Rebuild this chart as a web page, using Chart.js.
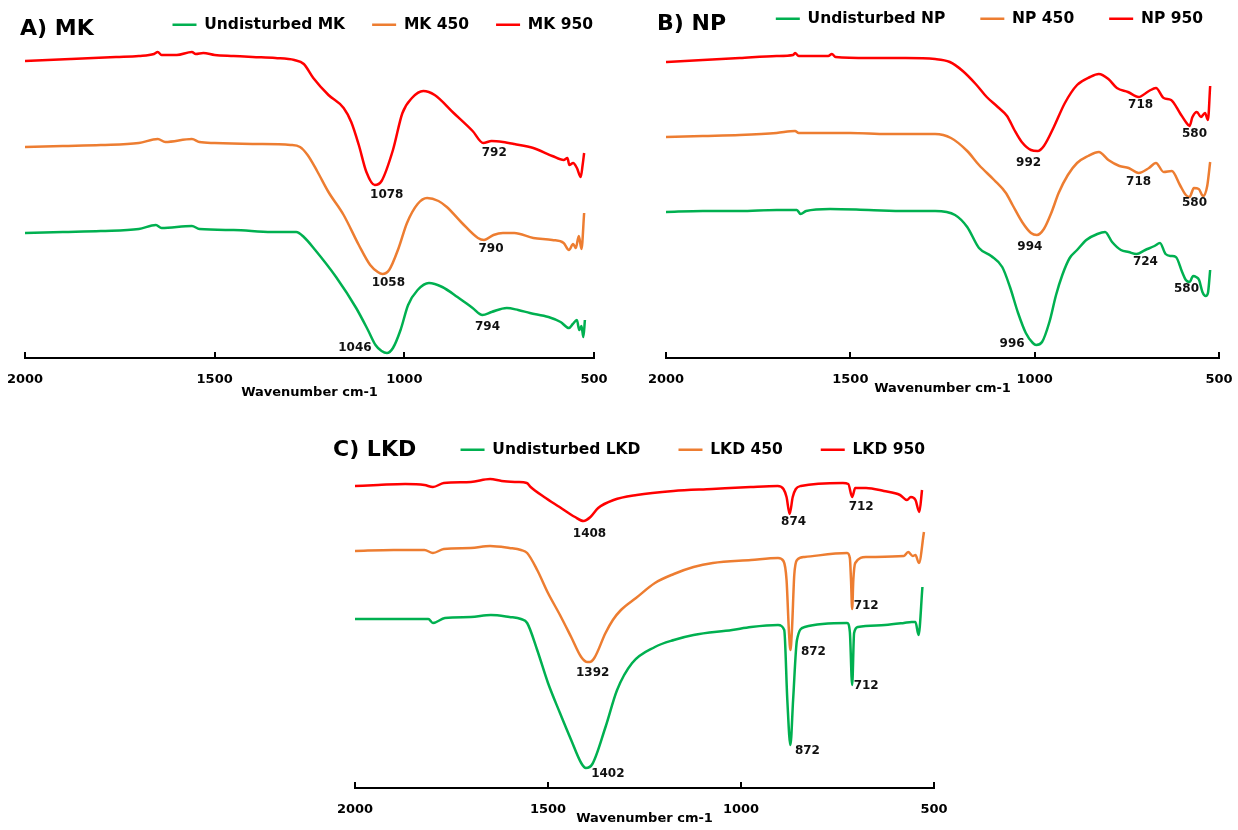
<!DOCTYPE html>
<html>
<head>
<meta charset="utf-8">
<title>FTIR spectra - MK, NP, LKD</title>
<script src="https://cdn.jsdelivr.net/npm/chart.js@4.4.1/dist/chart.umd.min.js"></script>
<style>
  body { margin: 0; background: #fff; }
  #wrap { position: relative; width: 1238px; height: 830px; }
  #wrap canvas { position: absolute; }
  #chartMK { left: 0; top: 0; }
  #chartNP { left: 620px; top: 0; }
  #chartLKD { left: 330px; top: 410px; }
</style>
</head>
<body>
<div id="wrap">
  <canvas id="chartMK" width="620" height="410"></canvas>
  <canvas id="chartNP" width="618" height="410"></canvas>
  <canvas id="chartLKD" width="633" height="420"></canvas>
</div>
<script>
// --- Wavenumber axis ticks (cm-1) ---
const tickValues = [2000, 1500, 1000, 500];

// --- Series colours: undisturbed, 450, 950 ---
const seriesColors = ['#00B050', '#ED7D31', '#FF0000'];

// --- MK spectra (transmittance, arbitrary units, offset per sample) ---
const mkUndWn = [2000, 1900, 1800, 1700, 1655, 1640, 1560, 1540, 1450, 1350, 1285, 1265, 1235, 1180, 1127, 1096, 1076, 1060, 1046, 1030, 1010, 990, 965, 935, 900, 860, 820, 794, 770, 730, 700, 669, 620, 588, 566, 556, 545, 539, 533, 528, 524];
const mkUndT  = [125, 126, 127, 129, 133, 130, 132, 129, 128, 126, 126, 121, 108, 81, 50, 28, 13, 7, 5, 10, 28, 53, 68, 75, 71, 61, 50, 43, 46, 50, 48, 45, 41, 36, 30, 34, 38, 28, 32, 21, 38];
const mk450Wn = [2000, 1900, 1800, 1700, 1650, 1630, 1560, 1540, 1500, 1400, 1300, 1275, 1255, 1230, 1200, 1160, 1120, 1090, 1070, 1058, 1040, 1015, 993, 965, 940, 910, 888, 848, 806, 790, 765, 740, 710, 660, 610, 580, 566, 555, 548, 540, 533, 526];
const mk450T  = [211, 212, 213, 215, 219, 216, 219, 216, 215, 214, 213, 211, 203, 187, 166, 143, 113, 93, 86, 84, 88, 110, 135, 154, 160, 157, 151, 135, 120, 118, 123, 125, 125, 120, 118, 115, 108, 114, 110, 122, 109, 145];
const mk950Wn = [2000, 1940, 1880, 1820, 1760, 1700, 1660, 1650, 1640, 1600, 1560, 1550, 1530, 1500, 1450, 1400, 1340, 1290, 1265, 1240, 1200, 1160, 1140, 1120, 1100, 1078, 1060, 1030, 1005, 980, 950, 920, 870, 820, 792, 770, 740, 710, 660, 610, 580, 570, 565, 555, 545, 535, 530, 526];
const mk950T  = [297, 298, 299, 300, 301, 302, 304, 306, 303, 303, 306, 304, 305, 303, 302, 301, 300, 298, 294, 280, 263, 250, 236, 213, 186, 173, 177, 208, 245, 260, 267, 263, 245, 227, 215, 217, 216, 214, 210, 202, 198, 200, 193, 195, 190, 181, 193, 205];

// --- NP spectra ---
const npUndWn = [2000, 1900, 1800, 1700, 1645, 1635, 1620, 1555, 1450, 1350, 1270, 1216, 1183, 1151, 1118, 1088, 1067, 1045, 1024, 1005, 996, 980, 960, 942, 925, 905, 885, 860, 830, 809, 790, 766, 745, 724, 700, 675, 660, 645, 630, 617, 600, 590, 580, 570, 562, 554, 545, 536, 530, 524];
const npUndT  = [146, 147, 147, 148, 148, 144, 147, 149, 148, 147, 147, 143, 131, 110, 102, 91, 71, 45, 25, 15, 13, 16, 36, 63, 83, 100, 108, 118, 124, 126, 116, 108, 106, 104, 108, 112, 115, 104, 102, 101, 86, 78, 76, 82, 81, 78, 66, 62, 65, 88];
const np450Wn = [2000, 1900, 1800, 1700, 1650, 1640, 1500, 1400, 1270, 1227, 1183, 1151, 1110, 1078, 1060, 1034, 1010, 994, 975, 955, 935, 910, 885, 855, 826, 800, 770, 745, 718, 690, 671, 650, 628, 606, 590, 580, 568, 555, 543, 532, 524];
const np450T  = [221, 222, 223, 225, 227, 225, 225, 224, 224, 220, 207, 193, 178, 165, 153, 136, 125, 123, 129, 145, 165, 183, 195, 202, 206, 198, 192, 190, 185, 190, 195, 186, 187, 173, 163, 161, 170, 169, 162, 172, 196];
const np950Wn = [2000, 1900, 1800, 1700, 1655, 1650, 1640, 1560, 1550, 1540, 1450, 1350, 1270, 1230, 1195, 1160, 1130, 1100, 1075, 1055, 1035, 1010, 992, 975, 948, 918, 885, 850, 826, 800, 777, 747, 718, 690, 671, 650, 630, 606, 590, 580, 572, 560, 549, 538, 530, 524];
const np950T  = [296, 298, 300, 302, 303, 305, 302, 302, 304, 301, 300, 300, 299, 296, 287, 274, 261, 251, 242, 228, 216, 208, 207, 212, 231, 255, 273, 281, 284, 279, 270, 266, 261, 267, 270, 260, 258, 245, 236, 232, 241, 246, 241, 245, 238, 272];

// --- LKD spectra ---
const lkdUndWn = [2000, 1867, 1810, 1798, 1767, 1700, 1648, 1600, 1570, 1554, 1528, 1500, 1469, 1440, 1414, 1402, 1385, 1351, 1321, 1282, 1223, 1174, 1123, 1023, 974, 904, 888, 880, 872, 865, 855, 835, 725, 718, 712, 707, 697, 627, 578, 558, 548, 540, 530];
const lkdUndT  = [169, 169, 169, 165, 170, 171, 173, 171, 169, 165, 138, 105, 75, 48, 25, 20, 24, 61, 98, 125, 141, 148, 153, 158, 161, 163, 158, 88, 43, 88, 148, 161, 165, 156, 103, 155, 161, 163, 165, 166, 166, 153, 201];
const lkd450Wn = [2000, 1900, 1820, 1798, 1770, 1700, 1650, 1600, 1570, 1554, 1528, 1500, 1469, 1440, 1414, 1398, 1392, 1380, 1351, 1332, 1311, 1272, 1223, 1174, 1123, 1073, 974, 904, 890, 882, 876, 872, 868, 862, 855, 835, 725, 718, 715, 712, 709, 704, 676, 578, 567, 555, 548, 539, 526];
const lkd450T  = [237, 238, 238, 235, 239, 240, 242, 240, 238, 235, 218, 195, 173, 151, 131, 126, 126, 130, 155, 168, 178, 190, 205, 214, 221, 225, 228, 230, 227, 208, 158, 138, 158, 213, 228, 231, 235, 230, 208, 179, 208, 225, 231, 232, 236, 232, 233, 225, 256];
const lkd950Wn = [2000, 1940, 1870, 1820, 1798, 1770, 1700, 1650, 1620, 1580, 1555, 1545, 1510, 1470, 1430, 1408, 1390, 1370, 1330, 1270, 1175, 1075, 975, 905, 890, 882, 874, 866, 858, 845, 736, 722, 712, 704, 676, 630, 588, 570, 560, 548, 538, 531];
const lkd950T  = [302, 303, 304, 303, 301, 305, 306, 309, 307, 306, 305, 301, 291, 281, 271, 267, 271, 280, 288, 293, 297, 299, 301, 302, 299, 291, 274, 291, 299, 302, 305, 304, 291, 300, 300, 297, 293, 288, 291, 288, 276, 298];

// --- Labelled absorption bands: [dataset index, wavenumber] ---
const mkBands  = [[2, 1078], [2, 792], [1, 1058], [1, 790], [0, 1046], [0, 794]];
const npBands  = [[2, 992], [2, 718], [2, 580], [1, 994], [1, 718], [1, 580], [0, 996], [0, 724], [0, 580]];
const lkdBands = [[2, 1408], [2, 874], [2, 712], [1, 1392], [1, 872], [1, 712], [0, 1402], [0, 872], [0, 712]];

Chart.defaults.font.family = '"DejaVu Sans", Arial, sans-serif';
Chart.defaults.color = '#000';

// panel letter + sample name, top left of each chart
const panelTitle = {
    id: 'panelTitle',
    afterDraw(chart, args, opts) {
        const ctx = chart.ctx;
        ctx.save();
        ctx.font = 'bold 22px "DejaVu Sans", Arial, sans-serif';
        ctx.fillStyle = '#000';
        ctx.textAlign = 'left';
        ctx.textBaseline = 'middle';
        ctx.fillText(opts.text, opts.x, opts.y);
        ctx.restore();
    }
};

// wavenumber printed next to each band minimum
const bandLabels = {
    id: 'bandLabels',
    afterDatasetsDraw(chart, args, opts) {
        const { ctx, scales: { x, y } } = chart;
        ctx.save();
        ctx.font = 'bold 12px "DejaVu Sans", Arial, sans-serif';
        ctx.fillStyle = '#111';
        ctx.textAlign = 'center';
        ctx.textBaseline = 'middle';
        opts.items.forEach(item => {
            const pt = chart.data.datasets[item.ds].data.find(d => d.x === item.wn);
            if (!pt) return;
            ctx.fillText(String(item.wn), x.getPixelForValue(pt.x) + item.dx, y.getPixelForValue(pt.y) + item.dy);
        });
        ctx.restore();
    }
};

// short tick marks pointing up into the plot
const innerTicks = {
    id: 'innerTicks',
    afterDraw(chart) {
        const { ctx, scales: { x } } = chart;
        ctx.save();
        ctx.strokeStyle = '#000';
        ctx.lineWidth = 2;
        x.ticks.forEach(t => {
            const px = Math.round(x.getPixelForValue(t.value));
            ctx.beginPath();
            ctx.moveTo(px, x.top + 1);
            ctx.lineTo(px, x.top - 6);
            ctx.stroke();
        });
        ctx.restore();
    }
};

function toPoints(wn, vals) {
    return wn.map((w, i) => ({ x: w, y: vals[i] }));
}

function buildPanel(canvasId, p) {
    const datasets = p.series.map((s, i) => ({
        label: p.labels[i],
        data: toPoints(s[0], s[1]),
        borderColor: seriesColors[i],
        backgroundColor: seriesColors[i],
        borderWidth: 2.5,
        pointRadius: 0,
        cubicInterpolationMode: 'monotone',
        fill: false
    }));

    const items = p.bands.map((b, i) => ({ ds: b[0], wn: b[1], dx: p.offsets[i][0], dy: p.offsets[i][1] }));

    return new Chart(document.getElementById(canvasId), {
        type: 'line',
        data: { datasets },
        options: {
            responsive: false,
            animation: false,
            events: [],
            layout: { padding: p.padding },
            scales: {
                x: {
                    type: 'linear',
                    reverse: true,
                    min: 500,
                    max: 2000,
                    afterBuildTicks: axis => { axis.ticks = tickValues.map(v => ({ value: v })); },
                    afterFit: axis => { axis.paddingLeft = 0; axis.paddingRight = p.rightInset; },
                    grid: { display: false },
                    border: { display: true, color: '#000', width: 2 },
                    ticks: {
                        color: '#000',
                        font: { size: 13, weight: 'bold' },
                        padding: 6.2,
                        maxRotation: 0,
                        autoSkip: false,
                        callback: v => String(v)
                    },
                    title: {
                        display: true,
                        text: 'Wavenumber cm-1',
                        color: '#000',
                        font: { size: 13, weight: 'bold' },
                        padding: { top: p.titleGap, bottom: 0 }
                    }
                },
                y: { display: false, min: 0, max: p.yMax }
            },
            plugins: {
                legend: {
                    position: 'top',
                    align: 'end',
                    labels: {
                        usePointStyle: true,
                        pointStyle: 'line',
                        pointStyleWidth: 24,
                        padding: p.legendGap,
                        color: '#000',
                        font: { size: 15.5, weight: 'bold' }
                    }
                },
                tooltip: { enabled: false },
                panelTitle: { text: p.title, x: p.titleX, y: p.titleY },
                bandLabels: { items }
            }
        },
        plugins: [panelTitle, bandLabels, innerTicks]
    });
}

buildPanel('chartMK', {
    title: 'A) MK', titleX: 20, titleY: 29,
    labels: ['Undisturbed MK', 'MK 450', 'MK 950'],
    series: [[mkUndWn, mkUndT], [mk450Wn, mk450T], [mk950Wn, mk950T]],
    bands: mkBands,
    offsets: [[12, 10], [11, 10], [6, 9], [7, 9], [-32, -5], [5, 12]],
    padding: { left: 25, right: 0, top: -10, bottom: 9.2 },
    rightInset: 26, legendGap: 27, titleGap: -8.8, yMax: 315.5
});

buildPanel('chartNP', {
    title: 'B) NP', titleX: 37, titleY: 24,
    labels: ['Undisturbed NP', 'NP 450', 'NP 950'],
    series: [[npUndWn, npUndT], [np450Wn, np450T], [np950Wn, np950T]],
    bands: npBands,
    offsets: [[-9, 12], [2, 8], [5, 8], [-7, 12], [0, 9], [5, 6], [-24, -1], [9, 8], [-3, 7]],
    padding: { left: 46, right: 0, top: -24, bottom: 13.2 },
    rightInset: 19, legendGap: 35, titleGap: -12.8, yMax: 321.5
});

buildPanel('chartLKD', {
    title: 'C) LKD', titleX: 3, titleY: 40,
    labels: ['Undisturbed LKD', 'LKD 450', 'LKD 950'],
    series: [[lkdUndWn, lkdUndT], [lkd450Wn, lkd450T], [lkd950Wn, lkd950T]],
    bands: lkdBands,
    offsets: [[6, 13], [4, 8], [9, 10], [3, 11], [23, 2], [14, -3], [22, 6], [17, 6], [14, 1]],
    padding: { left: 25, right: 0, top: -6, bottom: 3.2 },
    rightInset: 29, legendGap: 38, titleGap: -12.8, yMax: 320.5
});
</script>
</body>
</html>
